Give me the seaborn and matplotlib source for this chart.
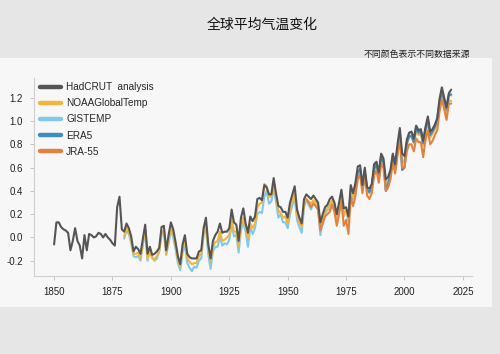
import numpy as np
import pandas as pd
import matplotlib
matplotlib.use("Agg")
import matplotlib.pyplot as plt
import seaborn as sns
from matplotlib.patches import Rectangle
from matplotlib.lines import Line2D

sns.set_theme(style="white")
plt.rcParams['font.family'] = ['Liberation Sans', 'Noto Sans CJK SC', 'DejaVu Sans']

title = "全球平均气温变化"
subtitle = "不同颜色表示不同数据来源"

x_ticks = [1850, 1875, 1900, 1925, 1950, 1975, 2000, 2025]
y_ticks = [-0.2, 0.0, 0.2, 0.4, 0.6, 0.8, 1.0, 1.2]

hadcrut_years = list(range(1850, 2021))
hadcrut = [
    -0.06, 0.13, 0.13, 0.09, 0.07, 0.06, 0.04, -0.11, -0.03, 0.08,   # 1850s
    -0.03, -0.07, -0.18, 0.02, -0.11, 0.03, 0.02, 0.00, 0.01, 0.04,  # 1860s
    0.03, 0.00, 0.03, 0.00, -0.02, -0.05, -0.07, 0.26, 0.35, 0.07,   # 1870s
    0.05, 0.12, 0.08, 0.01, -0.12, -0.08, -0.10, -0.14, -0.01, 0.11, # 1880s
    -0.14, -0.08, -0.15, -0.14, -0.12, -0.09, 0.09, 0.10, -0.11, 0.02,  # 1890s
    0.13, 0.07, -0.04, -0.16, -0.23, -0.06, 0.02, -0.14, -0.17, -0.18,  # 1900s
    -0.18, -0.18, -0.12, -0.11, 0.08, 0.17, -0.06, -0.18, -0.03, 0.02,  # 1910s
    0.05, 0.12, 0.04, 0.05, 0.05, 0.08, 0.24, 0.13, 0.11, -0.03,        # 1920s
    0.17, 0.25, 0.12, 0.04, 0.18, 0.14, 0.18, 0.33, 0.34, 0.32,         # 1930s
    0.45, 0.43, 0.37, 0.37, 0.51, 0.38, 0.27, 0.26, 0.22, 0.22,         # 1940s
    0.17, 0.30, 0.37, 0.44, 0.24, 0.17, 0.12, 0.33, 0.37, 0.35,         # 1950s
    0.33, 0.36, 0.33, 0.30, 0.13, 0.20, 0.26, 0.28, 0.33, 0.35,         # 1960s
    0.30, 0.20, 0.30, 0.41, 0.25, 0.26, 0.18, 0.45, 0.38, 0.47,         # 1970s
    0.61, 0.62, 0.45, 0.60, 0.43, 0.42, 0.46, 0.63, 0.65, 0.56,         # 1980s
    0.72, 0.68, 0.50, 0.52, 0.58, 0.72, 0.63, 0.80, 0.94, 0.72,         # 1990s
    0.70, 0.84, 0.90, 0.91, 0.85, 0.96, 0.92, 0.93, 0.83, 0.95,         # 2000s
    1.04, 0.91, 0.93, 0.97, 1.02, 1.19, 1.29, 1.20, 1.12, 1.24,         # 2010s
    1.27,                                                               # 2020
]

noaa_years = list(range(1880, 2021))
noaa = [
    0.01, 0.08, 0.05, -0.03, -0.14, -0.14, -0.13, -0.18, -0.05, 0.07,   # 1880s
    -0.18, -0.12, -0.18, -0.19, -0.16, -0.12, 0.04, 0.06, -0.14, -0.02, # 1890s
    0.09, 0.03, -0.07, -0.19, -0.25, -0.10, -0.02, -0.18, -0.21, -0.23, # 1900s
    -0.22, -0.22, -0.16, -0.14, 0.04, 0.12, -0.10, -0.21, -0.08, -0.04, # 1910s
    -0.03, 0.05, -0.03, -0.02, 0.00, 0.02, 0.16, 0.05, 0.05, -0.08,     # 1920s
    0.10, 0.17, 0.09, -0.01, 0.12, 0.08, 0.12, 0.26, 0.29, 0.30,        # 1930s
    0.46, 0.44, 0.35, 0.35, 0.48, 0.35, 0.23, 0.21, 0.17, 0.18,         # 1940s
    0.12, 0.25, 0.32, 0.38, 0.19, 0.13, 0.09, 0.28, 0.33, 0.31,         # 1950s
    0.29, 0.32, 0.30, 0.27, 0.08, 0.16, 0.22, 0.25, 0.28, 0.32,         # 1960s
    0.27, 0.17, 0.27, 0.38, 0.20, 0.23, 0.14, 0.41, 0.34, 0.42,         # 1970s
    0.55, 0.57, 0.42, 0.56, 0.40, 0.38, 0.43, 0.58, 0.61, 0.51,         # 1980s
    0.68, 0.64, 0.46, 0.48, 0.54, 0.68, 0.59, 0.76, 0.90, 0.66,         # 1990s
    0.65, 0.80, 0.86, 0.87, 0.81, 0.92, 0.88, 0.89, 0.79, 0.91,         # 2000s
    0.98, 0.86, 0.89, 0.93, 0.98, 1.12, 1.22, 1.14, 1.06, 1.18,         # 2010s
    1.17,                                                               # 2020
]

gistemp_years = list(range(1880, 2021))
gistemp = [
    -0.01, 0.06, 0.03, -0.05, -0.16, -0.17, -0.16, -0.20, -0.06, 0.05,  # 1880s
    -0.20, -0.11, -0.17, -0.20, -0.18, -0.12, 0.03, 0.04, -0.15, -0.05, # 1890s
    0.06, 0.00, -0.10, -0.22, -0.28, -0.13, -0.06, -0.22, -0.26, -0.29, # 1900s
    -0.25, -0.26, -0.20, -0.18, 0.02, 0.09, -0.15, -0.27, -0.12, -0.08, # 1910s
    -0.08, 0.01, -0.07, -0.05, -0.06, -0.02, 0.11, 0.01, 0.02, -0.13,   # 1920s
    0.06, 0.13, 0.05, -0.08, 0.09, 0.03, 0.08, 0.20, 0.22, 0.21,        # 1930s
    0.35, 0.40, 0.29, 0.31, 0.42, 0.31, 0.17, 0.20, 0.13, 0.13,         # 1940s
    0.08, 0.20, 0.28, 0.35, 0.15, 0.09, 0.04, 0.26, 0.32, 0.28,         # 1950s
    0.24, 0.30, 0.27, 0.24, 0.02, 0.14, 0.20, 0.24, 0.24, 0.31,         # 1960s
    0.28, 0.15, 0.26, 0.38, 0.18, 0.24, 0.14, 0.43, 0.33, 0.42,         # 1970s
    0.53, 0.58, 0.41, 0.56, 0.42, 0.38, 0.44, 0.59, 0.65, 0.53,         # 1980s
    0.71, 0.66, 0.46, 0.49, 0.57, 0.71, 0.59, 0.74, 0.89, 0.64,         # 1990s
    0.66, 0.82, 0.90, 0.89, 0.81, 0.96, 0.92, 0.93, 0.81, 0.93,         # 2000s
    1.00, 0.89, 0.93, 0.96, 1.03, 1.17, 1.27, 1.18, 1.11, 1.23,         # 2010s
    1.22,                                                               # 2020
]

era5_years = list(range(1979, 2021))
era5 = [
    0.43, 0.56, 0.59, 0.42, 0.57, 0.41, 0.39, 0.44, 0.59, 0.63, 0.51,   # 1979-1989
    0.69, 0.65, 0.40, 0.46, 0.55, 0.70, 0.61, 0.76, 0.90, 0.58,         # 1990s
    0.60, 0.81, 0.87, 0.87, 0.82, 0.94, 0.90, 0.91, 0.81, 0.93,         # 2000s
    1.01, 0.88, 0.91, 0.95, 1.00, 1.15, 1.26, 1.17, 1.10, 1.22,         # 2010s
    1.23,                                                               # 2020
]

jra55_years = list(range(1958, 2021))
jra55 = [
    0.33, 0.30,                                                         # 1958-59
    0.26, 0.29, 0.27, 0.24, 0.06, 0.12, 0.18, 0.20, 0.22, 0.28,         # 1960s
    0.22, 0.10, 0.20, 0.31, 0.10, 0.15, 0.03, 0.35, 0.27, 0.36,         # 1970s
    0.50, 0.54, 0.38, 0.53, 0.36, 0.33, 0.38, 0.53, 0.58, 0.47,         # 1980s
    0.63, 0.60, 0.40, 0.43, 0.50, 0.64, 0.55, 0.70, 0.85, 0.60,         # 1990s
    0.60, 0.74, 0.80, 0.80, 0.74, 0.85, 0.82, 0.82, 0.69, 0.84,         # 2000s
    0.92, 0.80, 0.83, 0.88, 0.92, 1.08, 1.19, 1.10, 1.01, 1.15,         # 2010s
    1.15,                                                               # 2020
]

series = [
    ("GISTEMP", gistemp_years, gistemp, "#80c8ee"),
    ("NOAAGlobalTemp", noaa_years, noaa, "#f2b53c"),
    ("ERA5", era5_years, era5, "#3c8cc6"),
    ("JRA-55", jra55_years, jra55, "#e3823e"),
    ("HadCRUT  analysis", hadcrut_years, hadcrut, "#555555"),
]

frames = []
for name, yrs, vals, _ in series:
    frames.append(pd.DataFrame({"year": yrs, "value": vals, "dataset": name}))
df = pd.concat(frames, ignore_index=True)

bg_outer = "#e6e6e6"
bg_panel = "#f7f7f7"

fig = plt.figure(figsize=(5.0, 3.54), dpi=100)
fig.patch.set_facecolor(bg_outer)
fig.patches.append(Rectangle((0, 1 - 307 / 354), 492 / 500, (307 - 58) / 354,
                             transform=fig.transFigure, facecolor=bg_panel,
                             edgecolor="none", zorder=-10))

ax = fig.add_axes([34 / 500, 1 - 276 / 354, (472 - 34) / 500, (276 - 78) / 354])
ax.set_facecolor(bg_panel)
ax.set_zorder(5)

palette = {name: c for name, _, _, c in series}
order = [s[0] for s in series]
sns.lineplot(data=df, x="year", y="value", hue="dataset", hue_order=order,
             palette=palette, linewidth=1.5, ax=ax, legend=False,
             estimator=None, sort=True)

ax.set_xlim(1841.4, 2028.9)
ax.set_ylim(-0.331, 1.37)
ax.set_xticks(x_ticks)
ax.set_yticks(y_ticks)
ax.set_yticklabels([f"{v:.1f}" for v in y_ticks])
ax.set_xlabel("")
ax.set_ylabel("")

for side in ["top", "right"]:
    ax.spines[side].set_visible(False)
for side in ["left", "bottom"]:
    ax.spines[side].set_color("#cfcfcf")
    ax.spines[side].set_linewidth(0.8)
ax.tick_params(axis="both", which="major", length=3, width=0.6, color="#bdbdbd",
               labelsize=7, labelcolor="#222222", pad=5, bottom=True, left=True)

legend_order = ["HadCRUT  analysis", "NOAAGlobalTemp", "GISTEMP", "ERA5", "JRA-55"]
handles = [Line2D([0], [0], color=palette[n], linewidth=3.2) for n in legend_order]
ax.legend(handles, legend_order, loc="upper left", bbox_to_anchor=(0.005, 1.0),
          frameon=False, fontsize=7.2, handlelength=2.1, handletextpad=0.5,
          labelspacing=0.62, borderaxespad=0.2, borderpad=0.2)

fig.text(0.524, 1 - 25 / 354, title, ha="center", va="center", fontsize=10,
         color="#111111", family=["Noto Sans CJK SC", "DejaVu Sans"])
fig.text(0.94, 1 - 54 / 354, subtitle, ha="right", va="center", fontsize=6.4,
         color="#222222", family=["Noto Sans CJK SC", "DejaVu Sans"])

fig.savefig("out.png", dpi=100, facecolor=fig.get_facecolor())
